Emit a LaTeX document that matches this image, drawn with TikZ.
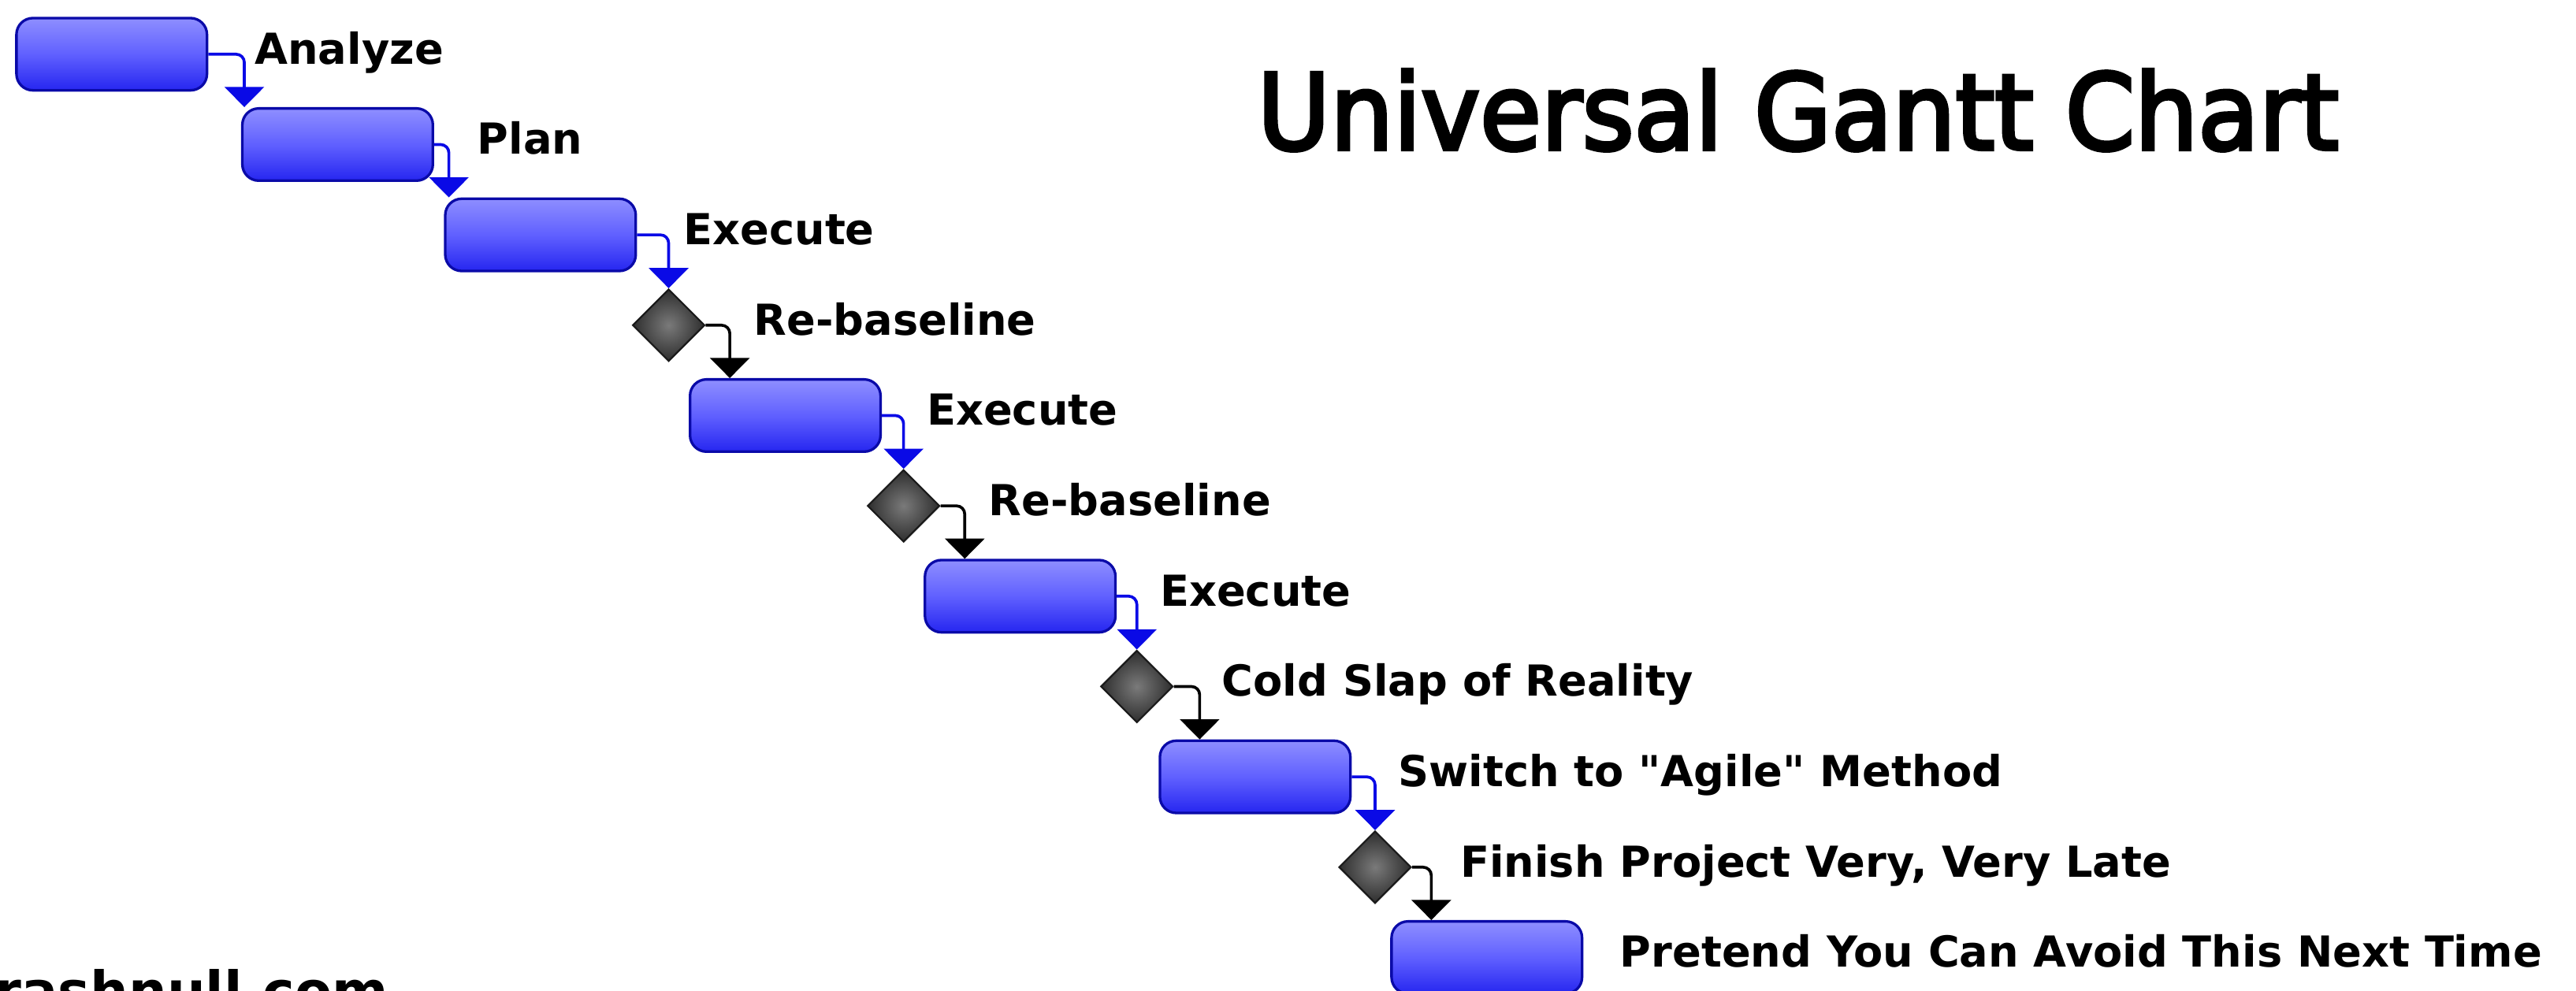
\documentclass[tikz,border=0pt]{standalone}
\usepackage{fontspec}
\setmainfont{DejaVu Sans}
\newfontfamily\titlefont{DejaVu Sans}[FakeStretch=0.945,FakeBold=3.5]
\usepackage{tikz}
\usetikzlibrary{arrows.meta,shapes.geometric,calc}
\usepackage{xcolor}
\definecolor{bartop}{HTML}{8E8EFF}
\definecolor{barmid}{HTML}{6060FF}
\definecolor{barbot}{HTML}{2626F0}
\definecolor{baredge}{HTML}{0A0AA8}
\definecolor{msin}{HTML}{7A7A7A}
\definecolor{msout}{HTML}{2E2E2E}
\definecolor{msedge}{HTML}{1A1A1A}
\definecolor{linkblue}{HTML}{0A0AE6}

\begin{document}
\begin{tikzpicture}[x=0.02cm, y=-0.02cm,
  task/.style={rectangle, rounded corners=0.2cm, minimum width=2.32cm,
    minimum height=0.88cm, inner sep=0pt, draw=baredge, line width=0.9pt,
    top color=bartop, bottom color=barbot, middle color=barmid},
  milestone/.style={diamond, minimum width=0.88cm, minimum height=0.88cm,
    inner sep=0pt, draw=msedge, line width=0.6pt,
    inner color=msin, outer color=msout},
  lbl/.style={anchor=base west, inner sep=0pt,
    font=\bfseries\fontsize{14.8}{16}\selectfont},
  link/.style={line width=1pt, rounded corners=0.1cm,
    -{Triangle[width=13.6pt,length=7pt]}}]

  \useasboundingbox (0,0) rectangle (1568,603);
  \fill[white] (0,0) rectangle (1568,603);
  \clip (0,0) rectangle (1568,603);

  % --- title ---
  \node[anchor=base west, inner sep=0pt,
    font=\titlefont\fontsize{36.5}{40}\selectfont] (title) at (765,91)
    {Universal Gantt Chart};

  % --- task bars ---
  \foreach \n/\x/\r in {1/68/0, 2/205.5/1, 3/329/2, 4/478/4, 5/621/6, 6/764/8, 7/905/10} {
    \node[task] (b\n) at (\x,{33+55*\r}) {};
  }

  % --- milestones ---
  \foreach \n/\x/\r in {1/407/3, 2/550/5, 3/692/7, 4/837/9} {
    \node[milestone] (d\n) at (\x,{33+55*\r}) {};
  }

  % --- links ---
  \draw[link, linkblue] (b1.east) -| ($(b2.north west)+(2,0)$);
  \draw[link, linkblue] (b2.east) -| ($(b3.north west)+(3,0)$);
  \foreach \a/\b in {3/1, 4/2, 5/3, 6/4} {
    \draw[link, linkblue] (b\a.east) -| (d\b.north);
  }
  \foreach \a/\b in {1/4, 2/5, 3/6, 4/7} {
    \draw[link, black] (d\a.east) -| ($(b\b.north west)+(25,0)$);
  }

  % --- labels ---
  \node[lbl] (t1) at ($(b1.east)+(28,6)$) {Analyze};
  \node[lbl] (t2) at ($(b2.east)+(26,6)$) {Plan};
  \node[lbl] (t3) at ($(b3.east)+(28,6)$) {Execute};
  \node[lbl] (t4) at ($(d1.east)+(29,6)$) {Re-baseline};
  \node[lbl] (t5) at ($(b4.east)+(27,6)$) {Execute};
  \node[lbl] (t6) at ($(d2.east)+(29,6)$) {Re-baseline};
  \node[lbl] (t7) at ($(b5.east)+(26,6)$) {Execute};
  \node[lbl] (t8) at ($(d3.east)+(29,6)$) {Cold Slap of Reality};
  \node[lbl] (t9) at ($(b6.east)+(28,6)$) {Switch to \textquotedbl Agile\textquotedbl{} Method};
  \node[lbl] (t10) at ($(d4.east)+(29,6)$) {Finish Project Very, Very Late};
  \node[lbl] (t11) at ($(b7.east)+(22,6)$) {Pretend You Can Avoid This Next Time};

  % --- site name ---
  \node[anchor=base west, inner sep=0pt,
    font=\bfseries\fontsize{18.7}{20}\selectfont] (site) at (-19,615) {trashnull.com};
\end{tikzpicture}
\end{document}
